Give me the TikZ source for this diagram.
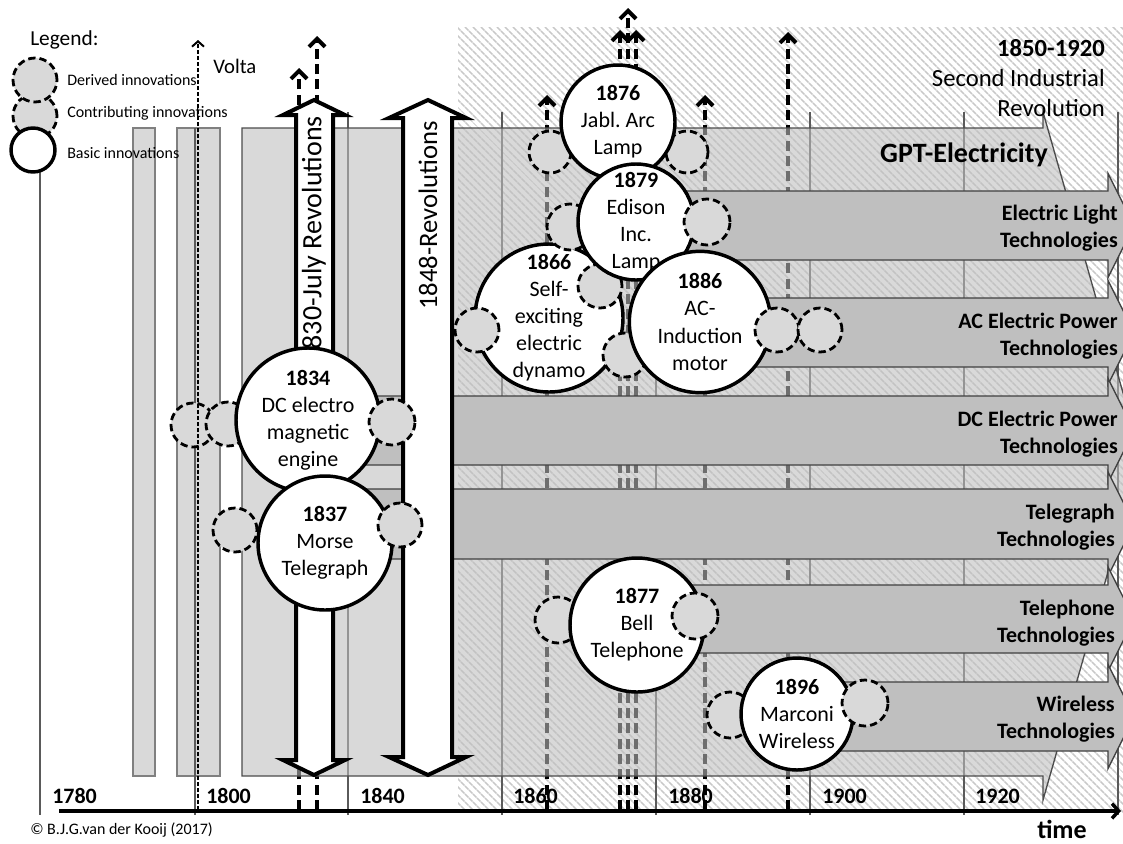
\documentclass[tikz,border=0pt]{standalone}
\usepackage{fontspec}
\setmainfont{Carlito}
\usetikzlibrary{arrows.meta,patterns.meta}
\definecolor{lightfill}{RGB}{217,217,217}
\definecolor{gptfill}{RGB}{190,190,190}
\definecolor{techfill}{RGB}{191,191,191}
\definecolor{hatchgray}{RGB}{200,200,200}
\definecolor{gridgray}{RGB}{90,90,90}
\newcommand\fsz[2]{\fontsize{#1}{#2}\selectfont}
% one technology band: left x, top y, bottom y
\newcommand\techband[3]{%
  \path[techarrow] (#1,#2) -- (1108,#2) -- (1108,{(#2+#3)/2-52}) -- (1134,{(#2+#3)/2})
    -- (1108,{(#2+#3)/2+52}) -- (1108,#3) -- (#1,#3) -- cycle;}

\begin{document}
\begin{tikzpicture}[x=0.75pt,y=-0.75pt,
  every node/.append style={inner sep=0pt},
  basic/.style={circle,draw=black,line width=2.6pt,fill=white,align=center,font=\fsz{16.5}{20.3}},
  derived/.style={circle,draw=black,line width=2.1pt,dash pattern=on 5.5pt off 3pt,fill=lightfill,minimum size=33pt},
  vdash/.style={line width=3pt,dash pattern=on 7.5pt off 4pt,-{Straight Barb[length=6pt,width=12pt]}},
  gridline/.style={draw=gridgray,line width=0.8pt},
  bar/.style={fill=lightfill,draw=gray,line width=0.8pt},
  gpt/.style={fill=gptfill,fill opacity=0.58,draw=black!70,line width=1pt},
  techarrow/.style={fill=techfill,draw=black!75,line width=1pt},
  revarrow/.style={fill=white,draw=black,line width=3pt,line join=miter},
  techlabel/.style={anchor=east,align=right,font=\bfseries\fsz{16.5}{20.5}},
  yearlabel/.style={anchor=west,font=\bfseries\fsz{16.5}{20}},
  legendtext/.style={anchor=west,font=\fsz{12}{14}}]

\clip (0,0) rectangle (1123,843);
\useasboundingbox (0,0) rectangle (1123,843);

% Second Industrial Revolution period (hatched)
\fill[pattern={Lines[angle=-45,distance=4pt,line width=1.3pt]},pattern color=hatchgray]
  (458,27) rectangle (1123,812);

% early innovation bars
\path[bar] (133,128) rectangle (155,776);
\path[bar] (177,128) rectangle (220,776);

% time grid
\draw[gridline] (40,150) -- (40,815);
\draw[gridline] (195,128) -- (195,815);
\foreach \gx in {348,502,656,810,964,1118} \draw[gridline] (\gx,112) -- (\gx,815);

% dashed innovation lines rising from the time axis
\coordinate (a1) at (299,810);  \coordinate (t1) at (299,68);
\coordinate (a2) at (317,810);  \coordinate (t2) at (317,36);
\coordinate (a3) at (547,810);  \coordinate (t3) at (547,95);
\coordinate (a4) at (620,810);  \coordinate (t4) at (620,30);
\coordinate (a5) at (628,810);  \coordinate (t5) at (628,8);
\coordinate (a6) at (636,810);  \coordinate (t6) at (636,30);
\coordinate (a7) at (705,810);  \coordinate (t7) at (705,95);
\coordinate (a8) at (788,810);  \coordinate (t8) at (788,32);
\foreach \i in {1,...,8} \draw[vdash] (a\i) -- (t\i);

% GPT electricity band
\path[gpt] (242,128) -- (1043,128) -- (1043,112) -- (1141,456) -- (1043,800)
  -- (1043,776) -- (242,776) -- cycle;

% technology bands
\techband{636}{191}{260}
\techband{700}{298}{367}
\techband{308}{396}{465}
\techband{325}{489}{559}
\techband{637}{585}{653}
\techband{797}{682}{751}

% revolutions
\path[revarrow] (296,115) -- (283,115) -- (314,100) -- (345,115) -- (333,115) -- (333,760)
  -- (345,760) -- (314,775) -- (283,760) -- (296,760) -- cycle;
\node[rotate=90,anchor=east,font=\fsz{21}{25}] (july) at (314,116) {1830-July Revolutions};
\path[revarrow] (403,118) -- (389,118) -- (428,100) -- (466,118) -- (452,118) -- (452,757)
  -- (466,757) -- (428,775) -- (389,757) -- (403,757) -- cycle;
\node[rotate=90,anchor=east,font=\fsz{20}{24}] (rev48) at (428,121) {1848-Revolutions};

% innovation clusters
\node[basic,minimum size=111pt] (n1866) at (549,318) {\textbf{1866}\\Self-\\exciting\\electric\\dynamo};
\node[derived] (d5) at (477,330) {};
\node[derived] (d6) at (600,286) {};
\node[derived] (d7) at (625,355) {};
\node[derived,minimum size=31.5pt] (d1) at (550,152) {};
\node[derived,minimum size=31.5pt] (d2) at (687,152) {};
\node[basic,minimum size=85.5pt] (n1876) at (618,122) {\textbf{1876}\\Jabl.\ Arc\\Lamp};
\node[derived,minimum size=34.5pt] (d3) at (570,227) {};
\node[basic,minimum size=87pt] (n1879) at (636,222) {\textbf{1879}\\Edison\\Inc.\\Lamp};
\node[derived,minimum size=34.5pt] (d4) at (707,222) {};
\node[basic,minimum size=106pt] (n1886) at (700,322) {\textbf{1886}\\AC-\\Induction\\motor};
\node[derived] (d8) at (777,330) {};
\node[derived] (d9) at (820,330) {};

\node[derived] (d10) at (193,425) {};
\node[derived] (d11) at (228,424) {};
\node[basic,minimum size=108pt] (n1834) at (308,420) {\textbf{1834}\\DC electro\\magnetic\\engine};
\node[derived,minimum size=34.5pt] (d12) at (392,422) {};
\node[derived] (d13) at (235,530) {};
\node[basic,minimum size=100.5pt] (n1837) at (325,543) {\textbf{1837}\\Morse\\Telegraph};
\node[derived] (d14) at (400,525) {};

\node[derived,minimum size=34.5pt] (d15) at (558,620) {};
\node[basic,minimum size=100.5pt] (n1877) at (637,625) {\textbf{1877}\\Bell\\Telephone};
\node[derived,minimum size=34.5pt] (d16) at (695,616) {};
\node[derived,minimum size=34.5pt] (d17) at (730,715) {};
\node[basic,minimum size=84pt] (n1896) at (797,714) {\textbf{1896}\\Marconi\\Wireless};
\node[derived,minimum size=34.5pt] (d18) at (865,703) {};

% technology labels
\node[techlabel] (lbl1) at (1118,228) {Electric Light\\Technologies};
\node[techlabel] (lbl2) at (1118,336) {AC Electric Power\\Technologies};
\node[techlabel] (lbl3) at (1118,434) {DC Electric Power\\Technologies};
\node[techlabel] (lbl4) at (1115,527) {Telegraph\\Technologies};
\node[techlabel] (lbl5) at (1115,623) {Telephone\\Technologies};
\node[techlabel] (lbl6) at (1115,719) {Wireless\\Technologies};

\node[font=\bfseries\fsz{21}{25}] (gpt) at (964,155) {GPT-Electricity};
\node[anchor=east,align=right,font=\fsz{18.5}{22.5}] (sir) at (1105,78)
  {\textbf{1850-1920}\\Second Industrial\\Revolution};

% legend
\node[anchor=west,font=\fsz{16}{19}] (legend) at (30,40) {Legend:};
\node[derived] (legcontrib) at (35,116) {};
\node[derived] (legderived) at (35,80) {};
\node[basic,minimum size=33pt] (legbasic) at (33,150) {};
\node[legendtext] (ltx1) at (67,80) {Derived innovations};
\node[legendtext] (ltx2) at (67,113) {Contributing innovations};
\node[legendtext] (ltx3) at (67,153) {Basic innovations};

% Volta
\coordinate (voltabase) at (198,810);
\coordinate (voltatop) at (198,40);
\draw[line width=1.1pt,dash pattern=on 3pt off 1.5pt,-{Straight Barb[length=4pt,width=9pt,line width=1.5pt]}]
  (voltabase) -- (voltatop);
\node[anchor=west,font=\fsz{15.5}{18}] (volta) at (213,66) {Volta};

% time axis
\coordinate (axstart) at (59,811);
\coordinate (axend) at (1121,811);
\draw[line width=2.6pt,-{Straight Barb[length=5pt,width=11pt]}] (axstart) -- (axend);
\node[yearlabel] (y1780) at (52,796) {1780};
\node[yearlabel] (y1800) at (206,796) {1800};
\node[yearlabel] (y1840) at (360,796) {1840};
\node[yearlabel] (y1860) at (513,796) {1860};
\node[yearlabel] (y1880) at (668,796) {1880};
\node[yearlabel] (y1900) at (822,796) {1900};
\node[yearlabel] (y1920) at (975,796) {1920};
\node[font=\bfseries\fsz{19.5}{22}] (time) at (1062,829) {time};
\node[anchor=west,font=\fsz{12}{14}] (copy) at (30,830) {© B.J.G.van der Kooij (2017)};

\end{tikzpicture}
\end{document}
